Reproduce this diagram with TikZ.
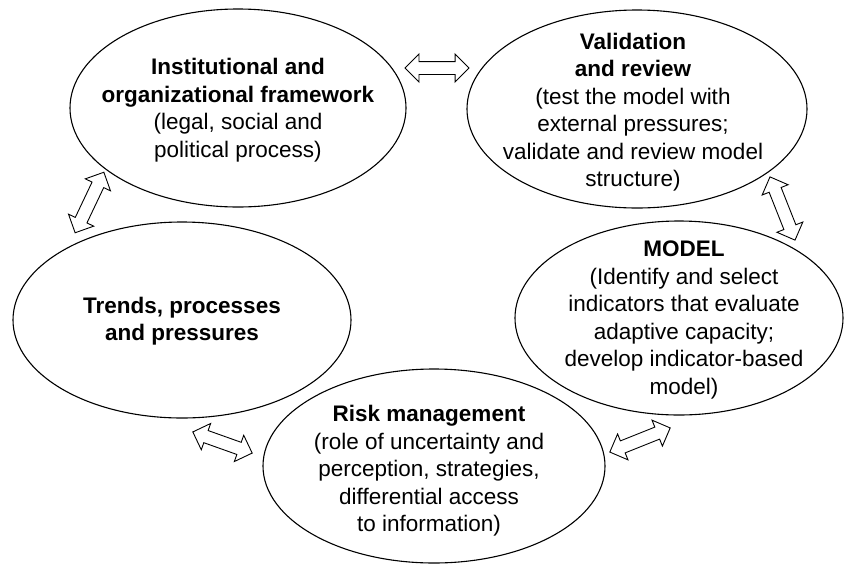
\documentclass[tikz,border=0pt]{standalone}
\usepackage{fontspec}
\setmainfont{Liberation Sans}
\usetikzlibrary{shapes.geometric,shapes.arrows}
\begin{document}
\begin{tikzpicture}[x=1pt,y=-1pt,
  oval/.style={ellipse, draw, line width=1.1pt, inner sep=0pt},
  txt/.style={align=center, inner sep=0pt, font=\fontsize{22.5}{27.5}\selectfont},
  dbl/.style={double arrow, draw, line width=0.9pt, fill=white, inner xsep=0pt, inner ysep=0pt,
    text width=0pt, text height=6pt, text depth=6pt,
    double arrow head extend=7.5pt, double arrow tip angle=90}]
\useasboundingbox (0,0) rectangle (844,566);

% the five stages
\node[oval, minimum width=336pt, minimum height=198pt] (inst) at (238,108) {};
\node[oval, minimum width=340pt, minimum height=198pt] (val)  at (637,109) {};
\node[oval, minimum width=338pt, minimum height=196pt] (trend) at (182,320) {};
\node[oval, minimum width=328pt, minimum height=194pt] (model) at (679,318) {};
\node[oval, minimum width=342pt, minimum height=194pt] (risk) at (434,466) {};

\node[txt] (instT) at (238,110) {\textbf{Institutional and}\\ \textbf{organizational framework}\\ (legal, social and\\ political process)};
\node[txt] (valT) at (633,112) {\textbf{Validation}\\ \textbf{and review}\\ (test the model with\\ external pressures;\\ validate and review model\\ structure)};
\node[txt] (trendT) at (182,321) {\textbf{Trends, processes}\\ \textbf{and pressures}};
\node[txt] (modelT) at (684,320) {\textbf{MODEL}\\ (Identify and select\\ indicators that evaluate\\ adaptive capacity;\\ develop indicator-based\\ model)};
\node[txt] (riskT) at (429,471) {\textbf{Risk management}\\ (role of uncertainty and\\ perception, strategies,\\ differential access\\ to information)};

% two-way links between stages
\node[dbl, minimum height=64pt, rotate=0] (a1) at (437,68) {};
\node[dbl, minimum height=67pt, rotate=64.6] (a2) at (89.5,202.5) {};
\node[dbl, minimum height=68pt, rotate=-68.4] (a3) at (782.5,208.5) {};
\node[dbl, minimum height=63pt, rotate=-19.6] (a4) at (222.5,442.5) {};
\node[dbl, minimum height=65pt, rotate=21.8] (a5) at (640,440) {};
\end{tikzpicture}
\end{document}
